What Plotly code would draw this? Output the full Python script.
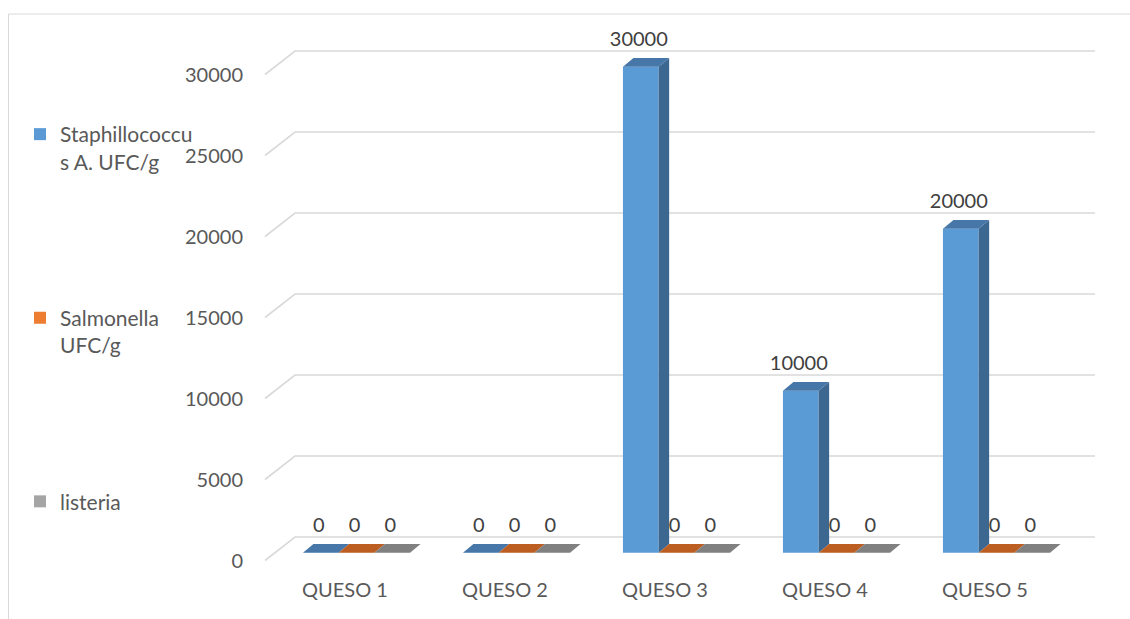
import plotly.graph_objects as go

# ---- data -------------------------------------------------------------
categories = ["QUESO 1", "QUESO 2", "QUESO 3", "QUESO 4", "QUESO 5"]
staphylo = [0, 0, 30000, 10000, 20000]
salmonella = [0, 0, 0, 0, 0]
listeria = [0, 0, 0, 0, 0]
series_names = ["Staphillococcu<br>s A. UFC/g", "Salmonella<br>UFC/g", "listeria"]
y_ticks = [0, 5000, 10000, 15000, 20000, 25000, 30000]

series = [staphylo, salmonella, listeria]
front_colors = ["#5B9BD5", "#ED7D31", "#A5A5A5"]
top_colors = ["#4677A8", "#BC5E22", "#808080"]
side_colors = ["#3B6791", "#A0501C", "#6C6C6C"]

# ---- page / projection geometry (pixels) -------------------------------
W, H = 1130, 619
M_L, M_B = 250, 47
PLOT_BOTTOM = H - M_B
CAT_PX = 160.0          # width of one category on the front edge
X0_PX = 345.0           # centre of the first category on the front edge
Y0_PX = 560.5           # value 0 on the front edge
UNIT_PX = 486.0 / 30000  # pixels per value unit

WALL_D = (30.0, 23.5)   # oblique depth of the walls (right, up)
PLANE_D = (11.5, 7.8)   # where the bar row sits inside the depth
BAR_D = (10.5, 8.7)     # depth of a single bar
BAR_W = 35.7            # front width of a single bar
LABEL_GAP = 25.5        # data label centre above the bar's front top


def sx(px):
    return px / CAT_PX


def sy(px):
    return px / UNIT_PX


FONT = "Lato"
AXIS_COLOR = "#595959"
GRID_COLOR = "#D9D9D9"

fig = go.Figure()

# ---- back wall gridlines + side wall diagonals (kept under the bars) ----
x_front_left = sx(265 - X0_PX)
x_back_left = x_front_left + sx(WALL_D[0])
x_back_right = x_back_left + len(categories)
grid_shapes = []
for v in y_ticks:
    vb = v + sy(WALL_D[1])
    path = (f"M {x_front_left},{v} L {x_back_left},{vb} L {x_back_right},{vb}")
    grid_shapes.append(dict(type="path", xref="x", yref="y", path=path,
                            line=dict(color=GRID_COLOR, width=1.6),
                            layer="below"))

# ---- bars -----------------------------------------------------------------
base = sy(PLANE_D[1])
ddx, ddy = sx(BAR_D[0]), sy(BAR_D[1])
w = sx(BAR_W)
for j, (vals, name) in enumerate(zip(series, series_names)):
    centers = [i + sx(PLANE_D[0]) + (j - 1) * w for i in range(len(categories))]

    # top and right faces of every bar, built from the values
    tx, ty, rx, ry = [], [], [], []
    for c, v in zip(centers, vals):
        xl, xr = c - w / 2, c + w / 2
        top = base + v
        tx += [xl, xl + ddx, xr + ddx, xr, xl, None]
        ty += [top, top + ddy, top + ddy, top, top, None]
        if v > 0:
            rx += [xr, xr, xr + ddx, xr + ddx, xr, None]
            ry += [base, top, top + ddy, base + ddy, base, None]
    if rx:
        fig.add_trace(go.Scatter(x=rx, y=ry, mode="lines", fill="toself",
                                 fillcolor=side_colors[j], line=dict(width=0),
                                 hoverinfo="skip", showlegend=False))
    fig.add_trace(go.Scatter(x=tx, y=ty, mode="lines", fill="toself",
                             fillcolor=top_colors[j], line=dict(width=0),
                             hoverinfo="skip", showlegend=False))

    # front faces
    fig.add_trace(go.Bar(x=centers, y=vals, base=base, width=w, name=name,
                         legendgroup=str(j),
                         marker=dict(color=front_colors[j], line=dict(width=0)),
                         hovertemplate="%{y}<extra></extra>"))

    # data labels
    fig.add_trace(go.Scatter(x=[c - sx(2) for c in centers],
                             y=[base + v + sy(LABEL_GAP) for v in vals],
                             text=[str(v) for v in vals], mode="text",
                             textposition="middle center",
                             textfont=dict(family=FONT, size=20, color="#404040"),
                             hoverinfo="skip", showlegend=False))

# ---- axes -------------------------------------------------------------
fig.update_xaxes(range=[sx(M_L - X0_PX), sx(W - X0_PX)],
                 tickvals=list(range(len(categories))), ticktext=categories,
                 showgrid=False, zeroline=False, showline=False, ticks="",
                 tickfont=dict(family=FONT, size=20, color=AXIS_COLOR),
                 ticklabelstandoff=4, fixedrange=True)
fig.update_yaxes(range=[sy(Y0_PX - PLOT_BOTTOM), sy(Y0_PX)],
                 tickvals=y_ticks, ticktext=[str(v) for v in y_ticks],
                 showgrid=False, zeroline=False, showline=False, ticks="",
                 tickfont=dict(family=FONT, size=20, color=AXIS_COLOR),
                 ticklabelstandoff=6, fixedrange=True)


def px_to_paper(x, y):
    return (x - M_L) / (W - M_L), (PLOT_BOTTOM - y) / PLOT_BOTTOM


bx0, by0 = px_to_paper(8.5, 14)
bx1, by1 = px_to_paper(1140, 640)
lx, ly = px_to_paper(20, 114)

border = dict(type="rect", xref="paper", yref="paper",
              x0=bx0, y0=by0, x1=bx1, y1=by1,
              line=dict(color=GRID_COLOR, width=1), layer="below")

fig.update_layout(
    width=W, height=H,
    margin=dict(l=M_L, r=0, t=0, b=M_B),
    barmode="overlay",
    plot_bgcolor="white", paper_bgcolor="white",
    font=dict(family=FONT, color=AXIS_COLOR),
    showlegend=True,
    legend=dict(x=lx, y=ly, xanchor="left", yanchor="top",
                font=dict(family=FONT, size=21, color=AXIS_COLOR),
                traceorder="grouped", tracegroupgap=126, valign="top",
                bgcolor="rgba(0,0,0,0)"),
    shapes=[border] + grid_shapes,
)

fig.write_html("out.html")
